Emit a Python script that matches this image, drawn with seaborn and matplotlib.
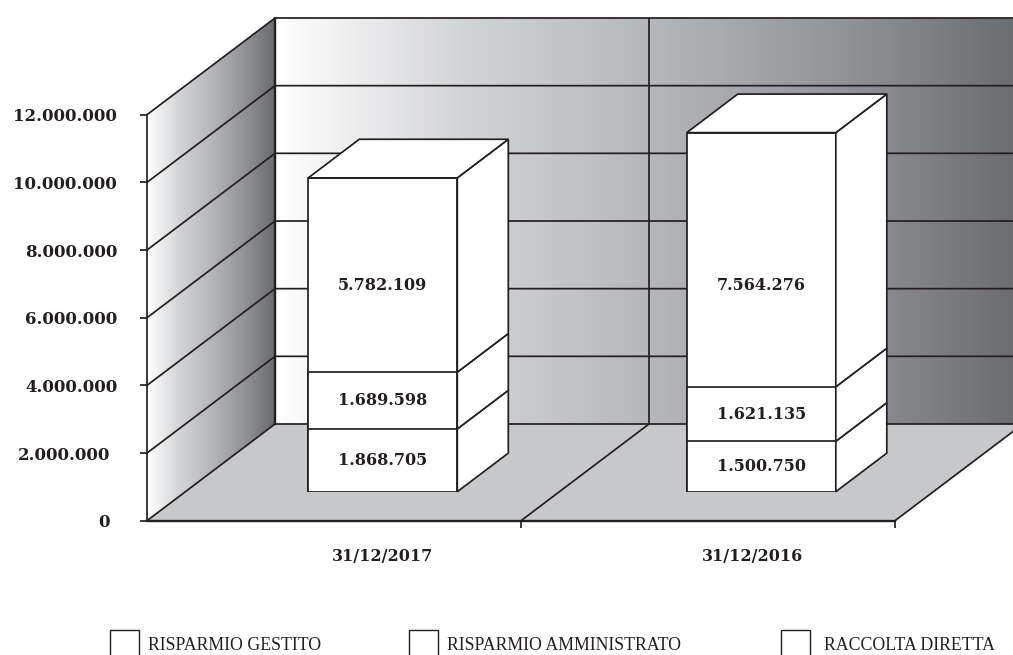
import matplotlib
matplotlib.use("Agg")
import matplotlib.pyplot as plt
from matplotlib.colors import LinearSegmentedColormap
from matplotlib.patches import Polygon, Patch
from matplotlib.transforms import ScaledTranslation
import numpy as np
import pandas as pd
import seaborn as sns

categories = ["31/12/2017", "31/12/2016"]
series_names = ["RISPARMIO GESTITO", "RISPARMIO AMMINISTRATO", "RACCOLTA DIRETTA"]
bottom_values = [1868705, 1500750]
middle_values = [1689598, 1621135]
top_values = [5782109, 7564276]
y_ticks = [0, 2000000, 4000000, 6000000, 8000000, 10000000, 12000000]

W, H = 1013, 655
INK = "#231f20"
FONT_B = "DejaVu Serif"
FONT_R = "Liberation Serif"

sns.set_theme(style="white")
plt.rcParams["font.family"] = [FONT_B, "DejaVu Sans"]

rows = []
for name, vals in zip(series_names, [bottom_values, middle_values, top_values]):
    for c, v in zip(categories, vals):
        rows.append({"date": c, "series": name, "value": v})
df = pd.DataFrame(rows)
df["cum"] = df.groupby("date", sort=False)["value"].cumsum()
df["base"] = df["cum"] - df["value"]

fig = plt.figure(figsize=(W / 100, H / 100), dpi=100, facecolor="white")


def px_axes(x0, x1, y_top, y_bot, **kw):
    return fig.add_axes([x0 / W, 1 - y_bot / H, (x1 - x0) / W, (y_bot - y_top) / H], **kw)


# ---- front plane of the chart, with walls and floor behind it
ax = px_axes(147, 895, 114.7, 520.7, facecolor="none")
ax.set_xlim(-0.5, 1.5)
ax.set_ylim(0, 12000000)
px_x = 748 / 2          # pixels per category
px_y = 406 / 12000000   # pixels per unit
DX = 128 / px_x         # depth of the box in category units
DY = 96.7 / px_y        # depth of the box in value units
X0, X1, YT = -0.5, 1.5, 12000000

wall_cmap = LinearSegmentedColormap.from_list("wall", ["#ffffff", "#d3d4d6", "#b5b7ba", "#949599", "#6a6b6f"])
grad = np.linspace(0, 1, 256).reshape(1, -1)


def gradient(poly_pts, extent):
    poly = Polygon(poly_pts, closed=True, transform=ax.transData, facecolor="none", edgecolor="none")
    ax.add_patch(poly)
    poly.set_clip_on(False)
    im = ax.imshow(grad, cmap=wall_cmap, extent=extent, aspect="auto", origin="lower",
                   interpolation="bilinear", zorder=1)
    im.set_clip_box(fig.bbox)
    im.set_clip_path(poly)


# side wall and back wall
gradient([(X0, 0), (X0 + DX, DY), (X0 + DX, YT + DY), (X0, YT)], (X0, X0 + DX, 0, YT + DY))
gradient([(X0 + DX, DY), (X1 + DX, DY), (X1 + DX, YT + DY), (X0 + DX, YT + DY)],
         (X0 + DX, X1 + DX, DY, YT + DY))
ax.set_xlim(X0, X1)
ax.set_ylim(0, YT)

# floor
ax.add_patch(Polygon([(X0, 0), (X1, 0), (X1 + DX, DY), (X0 + DX, DY)], closed=True, facecolor="#c7c8ca",
                     edgecolor="none", zorder=2, clip_on=False))

LW = 1.25
line_kw = dict(color=INK, lw=LW, zorder=3, clip_on=False, solid_capstyle="butt")
for t in y_ticks:
    ax.plot([X0, X0 + DX, X1 + DX], [t, t + DY, t + DY], **line_kw)
ax.plot([X0 + DX, X0 + DX], [DY, YT + DY], color=INK, lw=1.7, zorder=3, clip_on=False)
ax.plot([0.5, 0.5 + DX, 0.5 + DX], [0, DY, YT + DY], **line_kw)
ax.plot([X1, X1 + DX], [0, DY], **line_kw)
ax.set_xlim(X0, X1)
ax.set_ylim(0, YT)

for s in ["top", "right"]:
    ax.spines[s].set_visible(False)
ax.spines["left"].set_color(INK)
ax.spines["left"].set_linewidth(LW)
ax.spines["left"].set_zorder(4)
ax.spines["bottom"].set_color(INK)
ax.spines["bottom"].set_linewidth(1.7)
ax.spines["bottom"].set_zorder(4)

ax.set_yticks(y_ticks)
ax.set_yticklabels([f"{t:,}".replace(",", ".") for t in y_ticks], fontsize=12, fontweight="bold",
                   color=INK, family=FONT_B)
ax.tick_params(axis="y", left=True, length=5, width=LW, color=INK, pad=16.5)
for lab in ax.get_yticklabels()[:2]:
    lab.set_transform(lab.get_transform() + ScaledTranslation(-7 / 100, 0, fig.dpi_scale_trans))
ax.set_xticks([0.5, 1.5])
ax.set_xticklabels(["", ""])
ax.tick_params(axis="x", which="major", bottom=True, length=5, width=LW, color=INK)
ax.set_xticks([0.131, 1.12], minor=True)
ax.set_xticklabels(categories, minor=True, fontsize=11.5, fontweight="bold", color=INK, family=FONT_B)
ax.tick_params(axis="x", which="minor", bottom=False, length=0, pad=20)
ax.set_xlabel("")
ax.set_ylabel("")

# ---- the stacked boxes, in an axes set forward on the floor
bx = px_axes(193.55, 950.55, 491.7 - 403.2, 491.7, facecolor="none")
bx.patch.set_alpha(0)
bar_px_y = 403.2 / 12000000
BAR_W = 149 / 378.5
B_DX = 51 / 378.5
B_DY = 38.6 / bar_px_y
edge = dict(edgecolor=INK, linewidth=LW)

for name in reversed(series_names):
    sub = df[df["series"] == name]
    sns.barplot(data=sub, x="date", y="cum", order=categories, color="white", saturation=1,
                width=BAR_W, errorbar=None, ax=bx, zorder=5, **edge)
bx.set_xlim(-0.5, 1.5)
bx.set_ylim(0, YT)
bx.axis("off")

for i, c in enumerate(categories):
    sub = df[df["date"] == c]
    xr = i + BAR_W / 2
    xl = i - BAR_W / 2
    for _, r in sub.iterrows():
        bx.add_patch(Polygon([(xr, r["base"]), (xr + B_DX, r["base"] + B_DY), (xr + B_DX, r["cum"] + B_DY),
                              (xr, r["cum"])], closed=True, facecolor="white", zorder=5, clip_on=False, **edge))
    top = sub["cum"].max()
    bx.add_patch(Polygon([(xl, top), (xl + B_DX, top + B_DY), (xr + B_DX, top + B_DY), (xr, top)],
                         closed=True, facecolor="white", zorder=5, clip_on=False, **edge))
    for _, r in sub.iterrows():
        y = 6130000 if r["series"] == series_names[2] else (r["base"] + r["cum"]) / 2
        bx.text(i, y, f"{r['value']:,}".replace(",", "."), ha="center", va="center", fontsize=11.5,
                fontweight="bold", color=INK, family=FONT_B, zorder=6)

# ---- legend: one keyed entry per series, spaced as in the source
for name, x, pad in zip(series_names, [110, 409, 781], [0.52, 0.52, 0.82]):
    fig.legend(handles=[Patch(facecolor="white", edgecolor=INK, linewidth=1.0, label=name)],
               loc="upper left", bbox_to_anchor=(x / W, 1 - 630 / H), frameon=False,
               borderpad=0, borderaxespad=0, handlelength=1.62, handleheight=2.12, handletextpad=pad,
               prop={"family": FONT_R, "size": 12.8}, labelcolor=INK)

fig.savefig("out.png", dpi=100, facecolor="white")
